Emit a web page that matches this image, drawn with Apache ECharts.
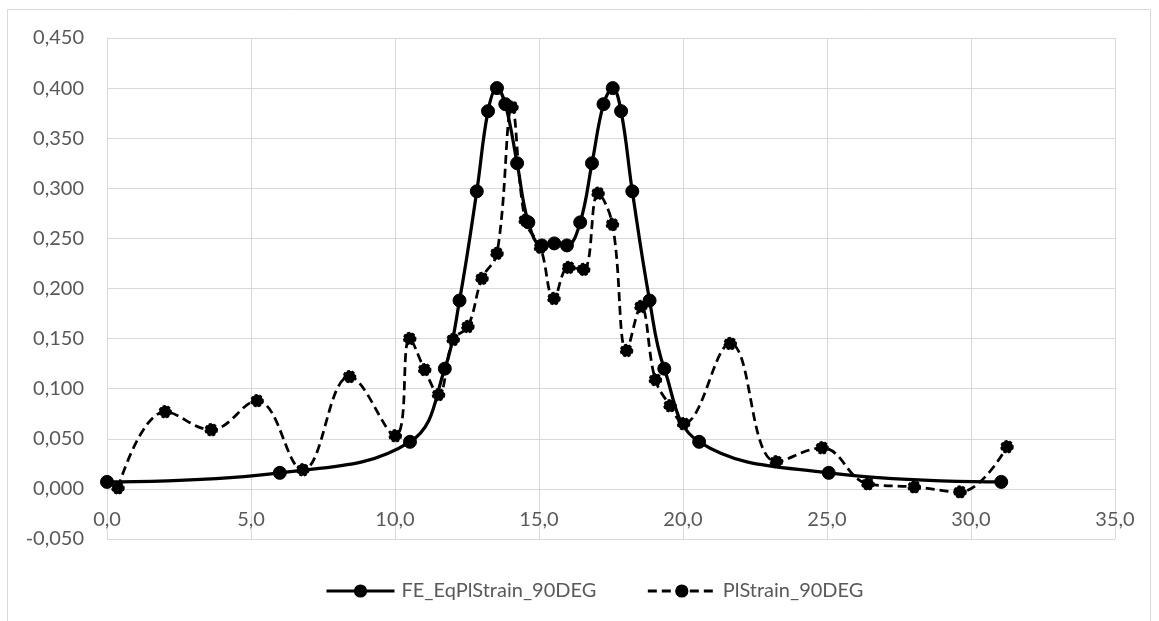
<!DOCTYPE html>
<html>
<head>
<meta charset="utf-8">
<script src="https://cdn.jsdelivr.net/npm/echarts@6/dist/echarts.min.js"></script>
<style>
  html, body { margin: 0; padding: 0; background: #fff; }
  #chart { width: 1159px; height: 621px; }
</style>
</head>
<body>
<div id="chart"></div>
<script>
// Series names
const seriesNames = ['FE_EqPlStrain_90DEG', 'PlStrain_90DEG'];

// FE_EqPlStrain_90DEG (solid)
const feX = [0.0, 6.0, 10.52, 11.73, 12.24, 12.84, 13.23, 13.54, 13.83, 14.24, 14.63, 15.1, 15.53,
             15.97, 16.43, 16.84, 17.24, 17.56, 17.85, 18.24, 18.84, 19.35, 20.56, 25.06, 31.05];
const feY = [0.007, 0.016, 0.047, 0.120, 0.188, 0.297, 0.377, 0.400, 0.384, 0.325, 0.266, 0.243, 0.245,
             0.243, 0.266, 0.325, 0.384, 0.400, 0.377, 0.297, 0.188, 0.120, 0.047, 0.016, 0.007];

// PlStrain_90DEG (dashed)
const plX = [0.38, 2.02, 3.62, 5.21, 6.8, 8.42, 10.01, 10.51, 11.03, 11.51, 12.02, 12.53, 13.02, 13.54,
             14.06, 14.52, 15.05, 15.52, 16.03, 16.55, 17.05, 17.55, 18.04, 18.54, 19.04, 19.55, 20.02,
             21.64, 23.24, 24.83, 26.42, 28.03, 29.62, 31.25];
const plY = [0.001, 0.077, 0.059, 0.088, 0.019, 0.112, 0.053, 0.150, 0.119, 0.094, 0.149, 0.162, 0.210, 0.235,
             0.381, 0.268, 0.241, 0.190, 0.221, 0.219, 0.295, 0.264, 0.138, 0.182, 0.109, 0.083, 0.065,
             0.145, 0.027, 0.041, 0.005, 0.002, -0.003, 0.042];

// Axis settings
const xTicks = { min: 0, max: 35, interval: 5 };
const yTicks = { min: -0.05, max: 0.45, interval: 0.05 };

const pairs = (xs, ys) => xs.map((x, i) => [x, ys[i]]);

const FONT = 'Lato, "Noto Sans", sans-serif';
const TXT = '#595959';
const GRID = '#D9D9D9';

const GRID_TOP = 38, GRID_BOTTOM = 82, H = 621;
const plotH = H - GRID_TOP - GRID_BOTTOM;
// shift the horizontal axis up so it sits on y = 0
const zeroOffset = -plotH * (0 - yTicks.min) / (yTicks.max - yTicks.min);

const chart = echarts.init(document.getElementById('chart'), null, { renderer: 'canvas' });
chart.setOption({
  animation: false,
  backgroundColor: '#ffffff',
  graphic: [{
    type: 'rect',
    shape: { x: 7.5, y: 9.5, width: 1143, height: 640 },
    style: { fill: 'none', stroke: GRID, lineWidth: 1 },
    silent: true, z: -1
  }],
  grid: { left: 107, right: 44, top: GRID_TOP, bottom: GRID_BOTTOM, containLabel: false },
  legend: {
    left: 320, top: 576,
    itemWidth: 68, itemHeight: 14, itemGap: 50,
    lineStyle: { width: 3 },
    textStyle: { fontFamily: FONT, fontSize: 20, color: TXT, padding: [0, 0, 0, 2] },
    data: seriesNames
  },
  xAxis: {
    type: 'value',
    min: xTicks.min, max: xTicks.max, interval: xTicks.interval,
    offset: zeroOffset,
    axisLine: { show: true, onZero: false, lineStyle: { color: GRID, width: 1 } },
    axisTick: { show: false },
    splitLine: { show: true, lineStyle: { color: GRID, width: 1 } },
    axisLabel: {
      margin: 21, fontFamily: FONT, fontSize: 20, color: TXT,
      formatter: v => v.toFixed(1).replace('.', ',')
    }
  },
  yAxis: {
    type: 'value',
    min: yTicks.min, max: yTicks.max, interval: yTicks.interval,
    axisLine: { show: true, lineStyle: { color: GRID, width: 1 } },
    axisTick: { show: false },
    splitLine: { show: true, lineStyle: { color: GRID, width: 1 } },
    axisLabel: {
      margin: 23, fontFamily: FONT, fontSize: 20, color: TXT,
      formatter: v => v.toFixed(3).replace('.', ',')
    }
  },
  series: [
    {
      name: seriesNames[0], type: 'line', smooth: 0.4,
      data: pairs(feX, feY),
      symbol: 'circle', symbolSize: 13,
      lineStyle: { color: '#000', width: 3.25 },
      itemStyle: { color: '#000', borderColor: '#000', borderWidth: 1 },
      z: 3
    },
    {
      name: seriesNames[1], type: 'line', smooth: 0.4,
      data: pairs(plX, plY),
      symbol: 'circle', symbolSize: 12,
      lineStyle: { color: '#000', width: 2.75, type: [9, 5] },
      itemStyle: { color: '#000', borderColor: '#000', borderWidth: 1.5, borderType: [3, 2] },
      z: 2
    }
  ]
});
</script>
</body>
</html>
